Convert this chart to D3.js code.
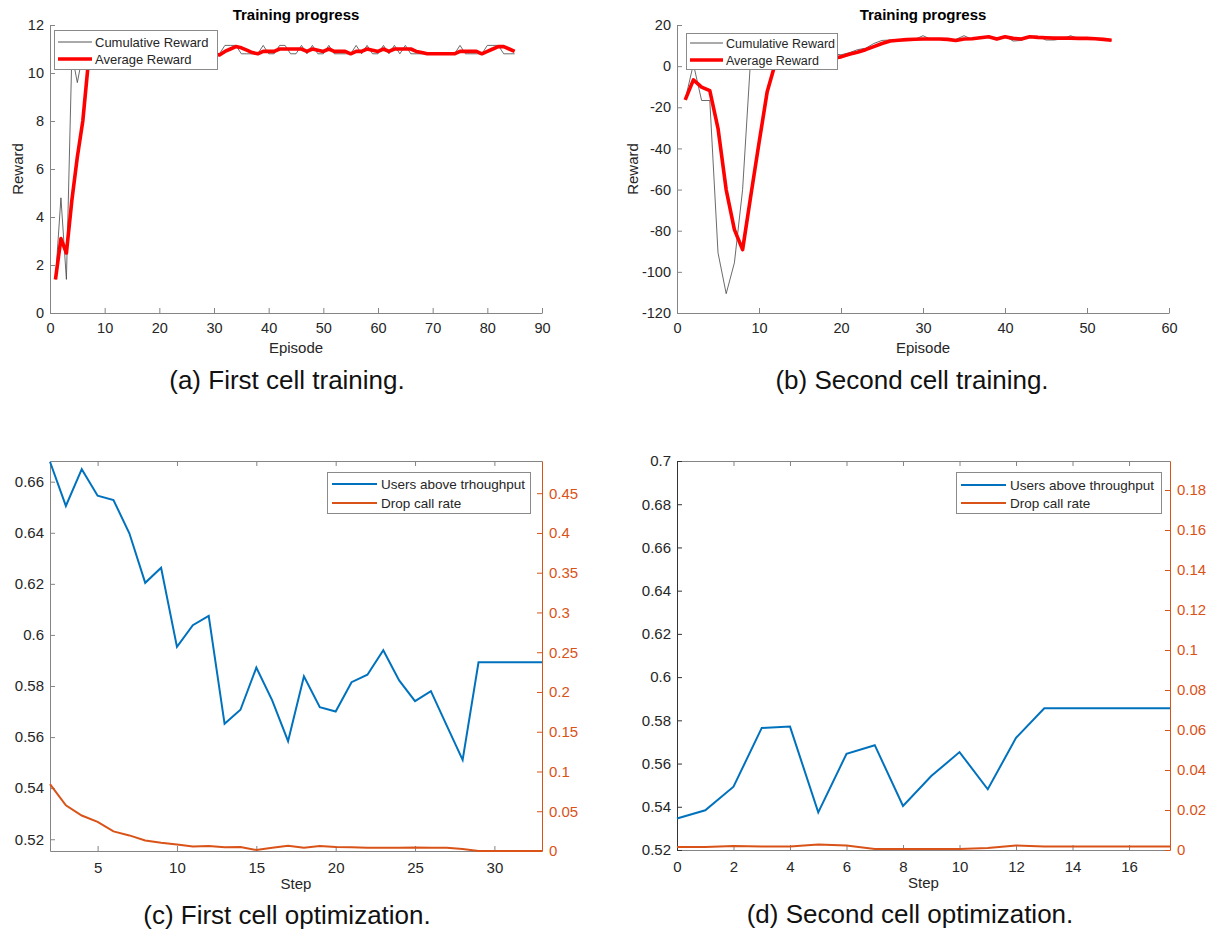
<!DOCTYPE html>
<html lang="en">
<head>
<meta charset="utf-8">
<title>Cell training and optimization</title>
<script src="https://cdn.jsdelivr.net/npm/d3@7"></script>
<style>
body { margin: 0; background: #fff; }
svg { font-family: "Liberation Sans", Arial, Helvetica, sans-serif; }
</style>
</head>
<body>
<script>

//First cell training, one value per episode (episode = index + 1)
var cumulativeA = [1.4, 4.8, 1.4, 10.8, 9.6, 10.8, 11.15, 10.8, 10.8, 11.15,
	10.8, 10.8, 10.8, 11.15, 10.8, 10.8, 11.15, 10.8, 10.8, 10.8,
	11.15, 10.8, 10.8, 10.8, 11.15, 10.8, 10.8, 10.8, 11.15, 10.8,
	10.8, 11.15, 11.15, 11.15, 10.8, 10.8, 10.8, 10.8, 11.15, 10.8,
	10.8, 11.15, 11.15, 10.8, 10.8, 11.15, 10.8, 11.15, 10.8, 10.8,
	11.15, 10.8, 10.8, 10.8, 10.8, 11.15, 10.8, 11.15, 10.8, 10.8,
	11.15, 10.8, 11.15, 10.8, 11.15, 10.8, 10.8, 10.8, 10.8, 10.8,
	10.8, 10.8, 10.8, 10.8, 11.15, 10.8, 10.8, 10.8, 10.8, 11.15,
	11.15, 11.15, 10.8, 10.8, 10.8];
var averageA = [1.4, 3.1, 2.5, 4.7, 6.5, 8.0, 10.4, 10.9, 11.0, 10.9,
	11.0, 10.9, 10.9, 11.0, 10.9, 10.9, 11.0, 10.9, 10.9, 10.9,
	11.0, 10.9, 10.9, 10.9, 11.0, 10.9, 10.9, 10.9, 10.9, 10.8,
	10.75, 10.9, 11.0, 11.1, 11.05, 10.95, 10.85, 10.8, 10.9, 10.9,
	10.9, 11.0, 11.0, 11.0, 11.0, 11.0, 10.9, 11.0, 10.95, 10.9,
	11.0, 10.9, 10.9, 10.9, 10.8, 10.9, 10.9, 11.0, 10.95, 10.9,
	11.0, 10.9, 11.0, 11.0, 11.0, 11.0, 10.9, 10.85, 10.8, 10.8,
	10.8, 10.8, 10.8, 10.8, 10.9, 10.9, 10.9, 10.9, 10.8, 10.9,
	11.0, 11.1, 11.1, 11.0, 10.9];

//Second cell training
var cumulativeB = [-16.4, 1, -16.7, -16.7, -90.7, -110.6, -95.6, -60, 5, 6,
	5, 7, 6, 5, 6, 5, 6, 5, 6, 5.5,
	6.5, 8, 8.7, 11, 12.5, 12.7, 12.8, 13, 13, 14.8,
	13, 13, 13, 13, 14.8, 13, 14.3, 14.3, 12.7, 14.5,
	12.2, 12.5, 14.5, 14.5, 12.7, 12.7, 13.3, 14.8, 13.3, 13.3,
	13.3, 13.3, 12.6];
var averageB = [-16.4, -6.7, -10.2, -11.9, -30.2, -60.1, -79.5, -89.2, -63, -37.4,
	-12.4, 1.5, 3.5, 4.5, 5, 5, 4.5, 4, 3.8, 4.5,
	5.8, 6.8, 8, 9.5, 11, 12.2, 12.6, 12.9, 13.1, 13.2,
	13.2, 13.2, 13.0, 12.5, 13.2, 13.3, 13.8, 14.3, 13.2, 14.3,
	13.5, 13.2, 14.3, 14.0, 13.8, 13.6, 13.6, 13.6, 13.5, 13.5,
	13.3, 13.0, 12.6];

//First cell optimization
var stepsC = [2, 3, 4, 5, 6, 7, 8, 9, 10, 11, 12, 13, 14, 15, 16, 17,
	18, 19, 20, 21, 22, 23, 24, 25, 26, 27, 28, 29, 30, 31, 32, 33];
var usersC = [0.6678, 0.6505, 0.6649, 0.6545, 0.6528, 0.6398, 0.6204, 0.6263,
	0.5953, 0.6038, 0.6075, 0.5652, 0.5707, 0.5872, 0.5744, 0.5584,
	0.5838, 0.5717, 0.5700, 0.5815, 0.5844, 0.5940, 0.5822, 0.5741,
	0.5780, 0.5645, 0.5511, 0.5893, 0.5893, 0.5893, 0.5893, 0.5893];
var dropC = [0.084, 0.0575, 0.0446, 0.0367, 0.0246, 0.0196, 0.0133, 0.0104,
	0.0083, 0.0058, 0.0063, 0.0046, 0.005, 0.0013, 0.0042, 0.0067,
	0.0042, 0.0063, 0.005, 0.0046, 0.0042, 0.0042, 0.004, 0.0045,
	0.0042, 0.0042, 0.0025, 0, 0, 0, 0, 0];

//Second cell optimization
var stepsD = [0, 1, 2, 3, 4, 5, 6, 7, 8, 9, 10, 11, 12, 13, 14, 15, 16, 17, 17.45];
var usersD = [0.5346, 0.5384, 0.5493, 0.5765, 0.5771, 0.5374, 0.5645, 0.5685,
	0.5404, 0.5542, 0.5653, 0.5481, 0.5719, 0.5856, 0.5856, 0.5856,
	0.5856, 0.5856, 0.5856];
var dropD = [0.0015, 0.0015, 0.002, 0.0018, 0.0018, 0.0027, 0.0022, 0.0005,
	0.0005, 0.0005, 0.0005, 0.001, 0.0023, 0.0018, 0.0018, 0.0018,
	0.0018, 0.0018, 0.0018];

//Tick values
var xTicksA = [0, 10, 20, 30, 40, 50, 60, 70, 80, 90];
var yTicksA = [0, 2, 4, 6, 8, 10, 12];
var xTicksB = [0, 10, 20, 30, 40, 50, 60];
var yTicksB = [-120, -100, -80, -60, -40, -20, 0, 20];
var xTicksC = [5, 10, 15, 20, 25, 30];
var yTicksC = [0.52, 0.54, 0.56, 0.58, 0.6, 0.62, 0.64, 0.66];
var y2TicksC = [0, 0.05, 0.1, 0.15, 0.2, 0.25, 0.3, 0.35, 0.4, 0.45];
var xTicksD = [0, 2, 4, 6, 8, 10, 12, 14, 16];
var yTicksD = [0.52, 0.54, 0.56, 0.58, 0.6, 0.62, 0.64, 0.66, 0.68, 0.7];
var y2TicksD = [0, 0.02, 0.04, 0.06, 0.08, 0.1, 0.12, 0.14, 0.16, 0.18];

var trainingLabels = ["Cumulative Reward", "Average Reward"];

var blue = "#0072bd";
var orange = "#d95319";
var frame = "#858585";
var ink = "#262626";

var svg = d3.select("body")
	.append("svg")
	.attr("width", 1215)
	.attr("height", 943);

function styleAxis(g, lineColor, textColor, size) {
	g.attr("font-family", null).attr("font-size", size);
	g.select(".domain").attr("stroke", lineColor);
	g.selectAll(".tick line").attr("stroke", lineColor);
	g.selectAll(".tick text").attr("fill", textColor);
}

function drawLegend(p, labels, colors, widths) {
	var lg = svg.append("g");
	lg.append("rect")
		.attr("x", p.x + 0.5).attr("y", p.y + 0.5)
		.attr("width", p.w).attr("height", p.h)
		.attr("fill", "white")
		.attr("stroke", "#8a8a8a")
		.attr("stroke-width", 1);
	labels.forEach(function(label, i) {
		var ly = p.rows[i];
		lg.append("line")
			.attr("x1", p.s0).attr("x2", p.s1)
			.attr("y1", ly).attr("y2", ly)
			.attr("stroke", colors[i])
			.attr("stroke-width", widths[i]);
		lg.append("text")
			.attr("x", p.tx).attr("y", ly + p.fs * 0.36)
			.attr("font-size", p.fs)
			.attr("fill", ink)
			.text(label);
	});
}

function drawTraining(p) {
	var x = d3.scaleLinear().domain(p.xDomain).range([p.left, p.right]);
	var y = d3.scaleLinear().domain(p.yDomain).range([p.bottom, p.top]);

	var line = d3.line()
		.x(function(d, i) { return x(i + 1); })
		.y(function(d) { return y(d); });

	//Axes (box off, ticks inside)
	var gx = svg.append("g")
		.attr("transform", "translate(0," + p.bottom + ")")
		.call(d3.axisBottom(x).tickValues(p.xTicks).tickSizeInner(-5).tickSizeOuter(0)
			.tickPadding(10).tickFormat(String));
	styleAxis(gx, frame, ink, 14.5);

	var gy = svg.append("g")
		.attr("transform", "translate(" + p.left + ",0)")
		.call(d3.axisLeft(y).tickValues(p.yTicks).tickSizeInner(-5).tickSizeOuter(0)
			.tickPadding(6).tickFormat(String));
	styleAxis(gy, frame, ink, 14.5);

	svg.append("path")
		.datum(p.cumulative)
		.attr("d", line)
		.attr("fill", "none")
		.attr("stroke", "#444")
		.attr("stroke-width", 0.8);

	svg.append("path")
		.datum(p.average)
		.attr("d", line)
		.attr("fill", "none")
		.attr("stroke", "#ff0000")
		.attr("stroke-width", 3.6)
		.attr("stroke-linejoin", "round");

	//Title and axis labels
	svg.append("text")
		.attr("x", (p.left + p.right) / 2).attr("y", 20)
		.attr("text-anchor", "middle")
		.attr("font-size", 15).attr("font-weight", "bold")
		.text("Training progress");

	svg.append("text")
		.attr("x", (p.left + p.right) / 2).attr("y", p.bottom + 40)
		.attr("text-anchor", "middle")
		.attr("font-size", 15).attr("fill", ink)
		.text("Episode");

	svg.append("text")
		.attr("transform", "translate(" + (p.left - p.labelGap) + "," + ((p.top + p.bottom) / 2) + ") rotate(-90)")
		.attr("text-anchor", "middle")
		.attr("font-size", 15).attr("fill", ink)
		.text("Reward");

	drawLegend(p.legend, trainingLabels, ["#555", "#ff0000"], [1, 3.6]);

	svg.append("text")
		.attr("x", p.captionX).attr("y", p.bottom + 76)
		.attr("text-anchor", "middle")
		.attr("font-size", 26).attr("fill", "#111")
		.text(p.caption);
}

function drawOptimization(p) {
	var x = d3.scaleLinear().domain(p.xDomain).range([p.left, p.right]);
	var y = d3.scaleLinear().domain(p.yDomain).range([p.bottom, p.top]);
	var y2 = d3.scaleLinear().domain(p.y2Domain).range([p.bottom, p.top]);

	var fmt = d3.format("~g");

	//Top border with ticks
	var gt = svg.append("g")
		.attr("transform", "translate(0," + p.top + ")")
		.call(d3.axisTop(x).tickValues(p.xTicks).tickSizeInner(-5).tickSizeOuter(0).tickFormat(""));
	styleAxis(gt, frame, ink, 15);

	var gx = svg.append("g")
		.attr("transform", "translate(0," + p.bottom + ")")
		.call(d3.axisBottom(x).tickValues(p.xTicks).tickSizeInner(-5).tickSizeOuter(0)
			.tickPadding(11).tickFormat(String));
	styleAxis(gx, frame, ink, 15);

	var gy = svg.append("g")
		.attr("transform", "translate(" + p.left + ",0)")
		.call(d3.axisLeft(y).tickValues(p.yTicks).tickSizeInner(-5).tickSizeOuter(0)
			.tickPadding(6).tickFormat(fmt));
	styleAxis(gy, p.leftColor, ink, 15);

	var gy2 = svg.append("g")
		.attr("transform", "translate(" + p.right + ",0)")
		.call(d3.axisRight(y2).tickValues(p.y2Ticks).tickSizeInner(-5).tickSizeOuter(0)
			.tickPadding(7).tickFormat(fmt));
	styleAxis(gy2, orange, orange, 15);

	var line1 = d3.line()
		.x(function(d, i) { return x(p.steps[i]); })
		.y(function(d) { return y(d); });
	var line2 = d3.line()
		.x(function(d, i) { return x(p.steps[i]); })
		.y(function(d) { return y2(d); });

	svg.append("path")
		.datum(p.drop)
		.attr("d", line2)
		.attr("fill", "none")
		.attr("stroke", orange)
		.attr("stroke-width", 2);

	svg.append("path")
		.datum(p.users)
		.attr("d", line1)
		.attr("fill", "none")
		.attr("stroke", blue)
		.attr("stroke-width", 2);

	svg.append("text")
		.attr("x", (p.left + p.right) / 2).attr("y", p.bottom + 38)
		.attr("text-anchor", "middle")
		.attr("font-size", 15).attr("fill", ink)
		.text("Step");

	drawLegend(p.legend, p.labels, [blue, orange], [2, 2]);

	svg.append("text")
		.attr("x", p.captionX).attr("y", p.bottom + 73)
		.attr("text-anchor", "middle")
		.attr("font-size", 26).attr("fill", "#111")
		.text(p.caption);
}

drawTraining({
	left: 50, right: 542, top: 25, bottom: 313, labelGap: 27,
	xDomain: [0, 90], yDomain: [0, 12],
	xTicks: xTicksA, yTicks: yTicksA,
	cumulative: cumulativeA, average: averageA,
	legend: {x: 54, y: 30, w: 163, h: 39, rows: [42, 59], s0: 58, s1: 92, tx: 95, fs: 13},
	caption: "(a) First cell training.", captionX: 287
});

drawTraining({
	left: 677, right: 1169, top: 25, bottom: 313, labelGap: 39,
	xDomain: [0, 60], yDomain: [-120, 20],
	xTicks: xTicksB, yTicks: yTicksB,
	cumulative: cumulativeB, average: averageB,
	legend: {x: 686, y: 33, w: 151, h: 36, rows: [43, 60], s0: 690, s1: 723, tx: 726, fs: 12.5},
	caption: "(b) Second cell training.", captionX: 912
});

drawOptimization({
	left: 50, right: 542, top: 461, bottom: 851,
	xDomain: [2, 33], yDomain: [0.5154, 0.6681], y2Domain: [0, 0.4905],
	xTicks: xTicksC, yTicks: yTicksC, y2Ticks: y2TicksC,
	steps: stepsC, users: usersC, drop: dropC,
	leftColor: frame,
	labels: ["Users above trhoughput", "Drop call rate"],
	legend: {x: 327, y: 472, w: 203, h: 41, rows: [484, 503], s0: 332, s1: 377, tx: 381, fs: 13.5},
	caption: "(c) First cell optimization.", captionX: 287
});

drawOptimization({
	left: 677, right: 1170, top: 461, bottom: 850,
	xDomain: [0, 17.45], yDomain: [0.52, 0.7], y2Domain: [0, 0.1945],
	xTicks: xTicksD, yTicks: yTicksD, y2Ticks: y2TicksD,
	steps: stepsD, users: usersD, drop: dropD,
	leftColor: "#333",
	labels: ["Users above throughput", "Drop call rate"],
	legend: {x: 956, y: 472, w: 205, h: 41, rows: [485, 503], s0: 961, s1: 1006, tx: 1010, fs: 13.5},
	caption: "(d) Second cell optimization.", captionX: 910
});

</script>
</body>
</html>
